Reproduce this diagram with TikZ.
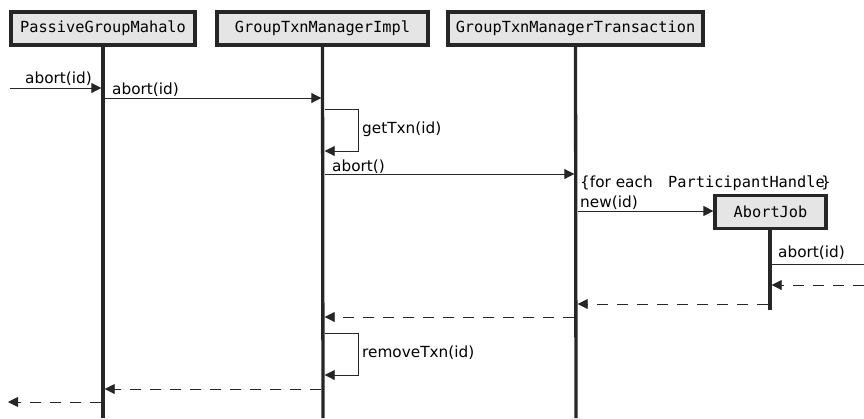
\documentclass[tikz,border=0pt]{standalone}
\usepackage{fontspec}
\setmainfont{DejaVu Sans}
\setmonofont{DejaVu Sans Mono}
\usetikzlibrary{arrows.meta}
\begin{document}
\begin{tikzpicture}[x=1pt,y=-1pt,
  obj/.style={draw=black!85, line width=3.6pt, fill=black!10,
    font=\ttfamily\fontsize{15.3}{18}\selectfont, inner sep=0pt,
    minimum height=33pt, anchor=north},
  life/.style={line width=3.3pt, draw=black!85},
  msg/.style={line width=0.9pt, draw=black!85,
    -{Triangle[length=10pt,width=10pt]}},
  ret/.style={msg, dash pattern=on 11pt off 9pt},
  lbl/.style={font=\fontsize{15.3}{18}\selectfont, anchor=base west, inner sep=0pt},
  mono/.style={lbl, font=\ttfamily\fontsize{15.3}{18}\selectfont}]
\useasboundingbox (0,0) rectangle (864,418);

% participants
\node[obj, minimum width=184pt] (pgm)  at (103,10)   {PassiveGroupMahalo};
\node[obj, minimum width=211pt] (impl) at (322.5,10) {GroupTxnManagerImpl};
\node[obj, minimum width=255pt] (txn)  at (575.5,10) {GroupTxnManagerTransaction};
\node[obj, minimum width=111pt, line width=3.2pt] (job) at (770.5,194) {AbortJob};

% lifelines
\coordinate (pgmEnd)  at (103,418);
\coordinate (implEnd) at (323,418);
\coordinate (txnEnd)  at (576,418);
\coordinate (jobEnd)  at (770,310);
\draw[life] (pgm.south)  -- (pgmEnd);
\draw[life] (impl.south) -- (implEnd);
\draw[life] (txn.south)  -- (txnEnd);
\draw[life] (job.south -| jobEnd) -- (jobEnd);

% outside endpoints
\coordinate (callIn)   at (10,88);
\coordinate (callOut)  at (864,264);
\coordinate (backIn)   at (864,285);
\coordinate (backOut)  at (8,402);

% abort(id) into PassiveGroupMahalo
\draw[msg] (callIn) -- ([xshift=-1.7pt]pgmEnd |- callIn);
\node[lbl] (l1) at (25,83) {abort(id)};

% abort(id) to GroupTxnManagerImpl
\draw[msg] ([xshift=1.7pt]pgmEnd |- 0,98) -- ([xshift=-1.7pt]implEnd |- 0,98);
\node[lbl] (l2) at (112,94) {abort(id)};

% getTxn(id) self call
\draw[msg] ([xshift=1.7pt]implEnd |- 0,109) -- (358,109) -- (358,151)
  -- ([xshift=1.7pt]implEnd |- 0,151);
\node[lbl] (l3) at (362,133) {getTxn(id)};

% abort() to GroupTxnManagerTransaction
\draw[msg] ([xshift=1.7pt]implEnd |- 0,174) -- ([xshift=-1.7pt]txnEnd |- 0,174);
\node[lbl] (l4) at (332,171) {abort()};

% loop note
\node[lbl] (l5a) at (580,187) {\{for each};
\node[mono] (l5b) at (668,187) {ParticipantHandle};
\node[lbl] (l5c) at (821,187) {\}};

% new(id) creates AbortJob
\draw[msg] ([xshift=1.7pt]txnEnd |- 0,211) -- (job.west |- 0,211);
\node[lbl] (l6) at (580,207) {new(id)};

% abort(id) from AbortJob
\draw[line width=0.9pt, draw=black!85] ([xshift=1.7pt]jobEnd |- callOut) -- (callOut);
\node[lbl] (l7) at (778,257) {abort(id)};

% returns
\draw[ret] (backIn) -- ([xshift=1.7pt]jobEnd |- backIn);
\draw[ret] ([xshift=-1.7pt]jobEnd |- 0,304) -- ([xshift=1.7pt]txnEnd |- 0,304);
\draw[ret] ([xshift=-1.7pt]txnEnd |- 0,317) -- ([xshift=1.7pt]implEnd |- 0,317);

% removeTxn(id) self call
\draw[msg] ([xshift=1.7pt]implEnd |- 0,333) -- (358,333) -- (358,375)
  -- ([xshift=1.7pt]implEnd |- 0,375);
\node[lbl] (l8) at (362,357) {removeTxn(id)};

\draw[ret] ([xshift=-1.7pt]implEnd |- 0,389) -- ([xshift=1.7pt]pgmEnd |- 0,389);
\draw[ret] ([xshift=-1.7pt]pgmEnd |- backOut) -- (backOut);
\end{tikzpicture}
\end{document}
